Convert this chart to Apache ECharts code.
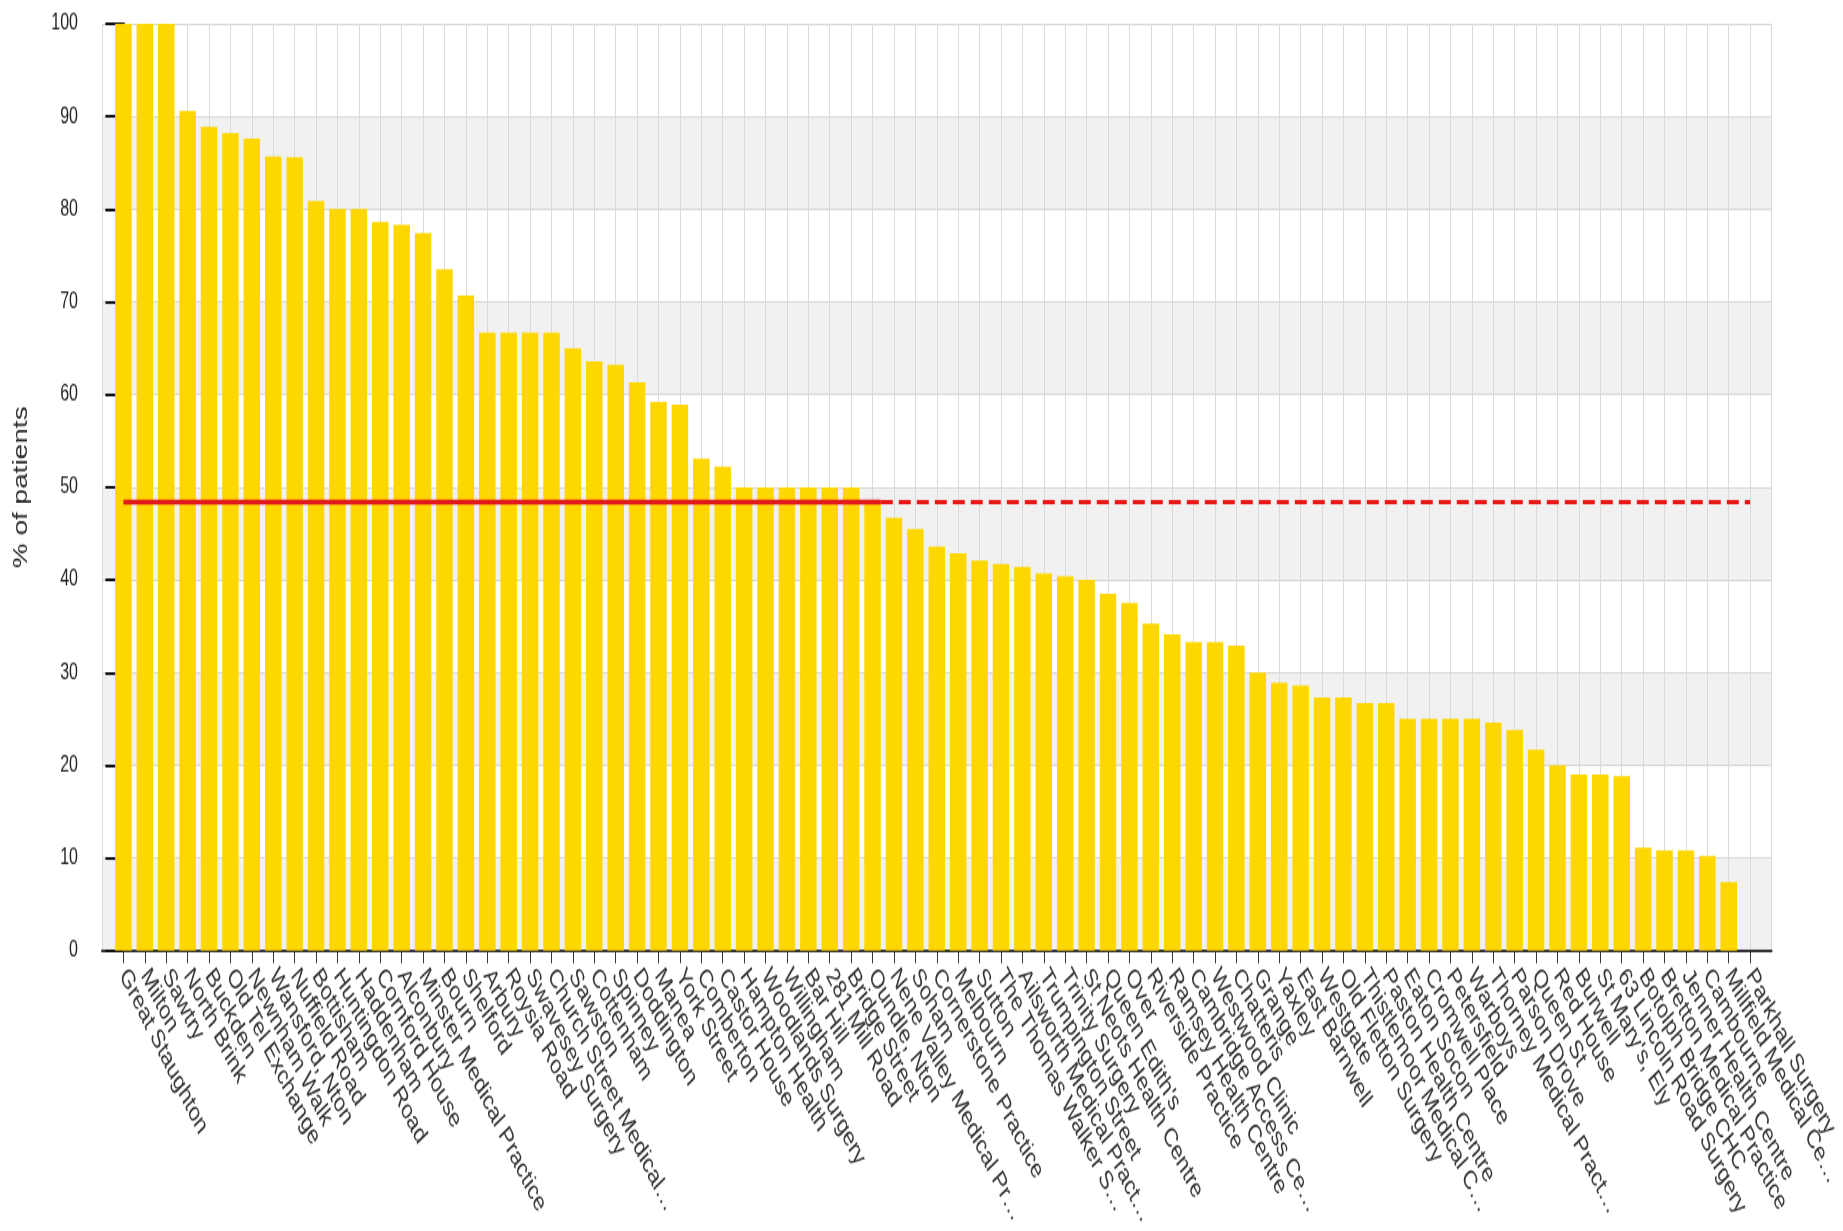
<!DOCTYPE html>
<html>
<head>
<meta charset="utf-8">
<script src="https://cdn.jsdelivr.net/npm/echarts@6/dist/echarts.min.js"></script>
<style>
  html, body { margin: 0; padding: 0; background: #ffffff; }
  #wrap { width: 1843px; height: 1231px; overflow: hidden; background: #ffffff; }
  #chart { width: 1843px; height: 879px; transform-origin: 0 0; }
</style>
</head>
<body>
<div id="wrap"><div id="chart"></div></div>
<script>
// ---- data ----
const categories = [
  "Great Staughton", "Milton", "Sawtry", "North Brink", "Buckden", "Old Tel Exchange",
  "Newnham Walk", "Wansford, Nton", "Nuffield Road", "Bottisham", "Huntingdon Road",
  "Haddenham", "Cornford House", "Alconbury", "Minster Medical Practice", "Bourn",
  "Shelford", "Arbury", "Roysia Road", "Swavesey Surgery", "Church Street Medical\u2026",
  "Sawston", "Cottenham", "Spinney", "Doddington", "Manea", "York Street", "Comberton",
  "Castor House", "Hampton Health", "Woodlands Surgery", "Willingham", "Bar Hill",
  "281 Mill Road", "Bridge Street", "Oundle, Nton", "Nene Valley Medical Pr\u2026", "Soham",
  "Cornerstone Practice", "Melbourn", "Sutton", "The Thomas Walker S\u2026",
  "Ailsworth Medical Pract\u2026", "Trumpington Street", "Trinity Surgery",
  "St Neots Health Centre", "Queen Edith's", "Over", "Riverside Practice",
  "Ramsey Health Centre", "Cambridge Access Ce\u2026", "Westwood Clinic", "Chatteris",
  "Grange", "Yaxley", "East Barnwell", "Westgate", "Old Fletton Surgery",
  "Thistlemoor Medical C\u2026", "Paston Health Centre", "Eaton Socon", "Cromwell Place",
  "Petersfield", "Warboys", "Thorney Medical Pract\u2026", "Parson Drove", "Queen St",
  "Red House", "Burwell", "St Mary's, Ely", "63 Lincoln Road Surgery",
  "Botolph Bridge CHC", "Bretton Medical Practice", "Jenner Health Centre", "Cambourne",
  "Millfield Medical Ce\u2026", "Parkhall Surgery"
];
const percentPatients = [
  100, 100, 100, 90.6, 88.9, 88.2, 87.6, 85.7, 85.6, 80.9,
  80, 80, 78.6, 78.3, 77.4, 73.5, 70.7, 66.7, 66.7, 66.7,
  66.7, 65, 63.6, 63.2, 61.3, 59.2, 58.9, 53.1, 52.2, 50,
  50, 50, 50, 50, 50, 48.4, 46.7, 45.5, 43.6, 42.9,
  42.1, 41.7, 41.4, 40.7, 40.4, 40, 38.5, 37.5, 35.3, 34.1,
  33.3, 33.3, 32.9, 30, 28.9, 28.6, 27.3, 27.3, 26.7, 26.7,
  25, 25, 25, 25, 24.6, 23.8, 21.7, 20, 19, 19,
  18.8, 11.1, 10.8, 10.8, 10.2, 7.4, 0
];
const averageValue = 48.4;
const yTickValues = [0, 10, 20, 30, 40, 50, 60, 70, 80, 90, 100];
const yAxisTitle = "% of patients";

// ---- layout: original picture is vertically stretched ----
const STRETCH = 1231 / 879;
document.getElementById('chart').style.transform = 'scaleY(' + STRETCH + ')';

const chart = echarts.init(document.getElementById('chart'), null, { renderer: 'canvas' });

const BAR_WIDTH = 16.5;
const barData = percentPatients.map((v, i) => [i, v]);
const lastIndex = categories.length - 1;

// where the average line stops lying over the bars (right edge of the last bar reaching it)
let lastAbove = 0;
percentPatients.forEach((v, i) => { if (v >= averageValue) lastAbove = i; });
const plotWidth = 1843 - 102 - 67;
const bandUnits = BAR_WIDTH / (plotWidth / (categories.length + 1)) / 2;
const splitX = lastAbove + bandUnits;
const avgSolid = [[0, averageValue], [splitX, averageValue]];
const avgDashed = [[splitX, averageValue], [lastIndex, averageValue]];

const FONT = "'Liberation Sans', Arial, sans-serif";

chart.setOption({
  animation: false,
  backgroundColor: '#ffffff',
  grid: { left: 102, right: 67, top: 17, bottom: 199, containLabel: false },
  xAxis: {
    type: 'value',
    min: -1,
    max: categories.length,
    interval: 1,
    axisLine: { show: true, onZero: false, lineStyle: { color: '#333333', width: 2 } },
    axisTick: { show: true, length: 9, lineStyle: { color: '#333333', width: 1 } },
    splitLine: { show: true, lineStyle: { color: '#dadada', width: 1 } },
    axisLabel: {
      show: true,
      rotate: -55,
      margin: 15,
      fontFamily: FONT,
      fontSize: 19,
      color: '#333333',
      showMinLabel: false,
      showMaxLabel: false,
      formatter: function (v) {
        const i = Math.round(v);
        return (i >= 0 && i < categories.length) ? categories[i] : '';
      }
    }
  },
  yAxis: {
    type: 'value',
    min: yTickValues[0],
    max: yTickValues[yTickValues.length - 1],
    interval: yTickValues[1] - yTickValues[0],
    name: yAxisTitle,
    nameLocation: 'middle',
    nameGap: 71,
    nameRotate: 90,
    nameTextStyle: { fontFamily: FONT, fontSize: 20, color: '#2a2a2a' },
    axisLine: { show: true, lineStyle: { color: '#111111', width: 2 } },
    axisTick: { show: true, length: 18, lineStyle: { color: '#111111', width: 2 } },
    axisLabel: { fontFamily: FONT, fontSize: 16, color: '#222222', margin: 24 },
    splitLine: { show: true, lineStyle: { color: '#d6d6d6', width: 1 } },
    splitArea: { show: true, areaStyle: { color: ['#f1f1f1', '#ffffff'] } }
  },
  series: [
    {
      type: 'bar',
      data: barData,
      barWidth: BAR_WIDTH,
      itemStyle: { color: '#FFD700' },
      z: 2
    },
    {
      type: 'line',
      data: avgSolid,
      symbol: 'none',
      lineStyle: { color: '#e01a1a', width: 3.5, type: 'solid' },
      z: 5
    },
    {
      type: 'line',
      data: avgDashed,
      symbol: 'none',
      lineStyle: { color: '#e81818', width: 3, type: [12, 6] },
      z: 5
    }
  ]
});
</script>
</body>
</html>
